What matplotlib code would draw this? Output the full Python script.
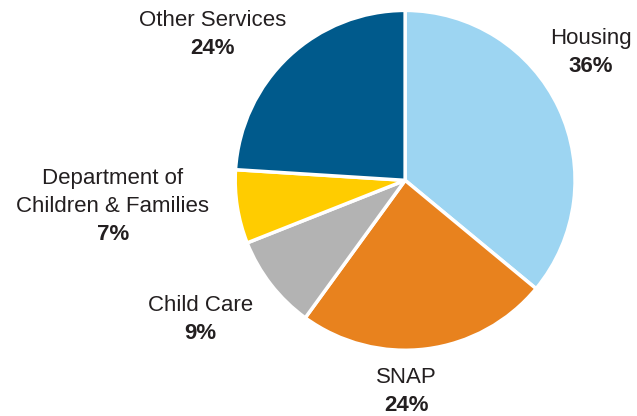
import matplotlib
matplotlib.use('Agg')
import matplotlib.pyplot as plt

plt.rcParams['font.family'] = ['Liberation Sans', 'DejaVu Sans']

# data
labels = ['Housing', 'SNAP', 'Child Care', 'Department of\nChildren & Families', 'Other Services']
shares = [36, 24, 9, 7, 24]
colors = ['#9DD5F2', '#E8821E', '#B3B3B3', '#FFCC00', '#005A8C']

# centre of the first label line, data units (layout only)
label_pos = [(1.094, 0.835), (0.006, -1.159), (-1.206, -0.735), (-1.72, 0.012), (-1.132, 0.941)]
step = 0.165  # line spacing in data units (~28 px)

fig = plt.figure(figsize=(6.37, 4.16), dpi=100)
ax = fig.add_axes([0.369, 0.158, 0.534, 0.817])

ax.pie(shares, colors=colors, startangle=90, counterclock=False,
       wedgeprops=dict(edgecolor='white', linewidth=2.5))
ax.set_xlim(-1, 1)
ax.set_ylim(-1, 1)
ax.set_aspect('equal')

txt_color = '#231F20'
for name, val, (x, y) in zip(labels, shares, label_pos):
    lines = name.split('\n')
    for i, ln in enumerate(lines):
        ax.text(x, y - step * i, ln, ha='center', va='center', fontsize=16,
                color=txt_color, clip_on=False)
    ax.text(x, y - step * len(lines), f'{val}%', ha='center', va='center',
            fontsize=16, fontweight='bold', color=txt_color, clip_on=False)

plt.savefig('out.png', dpi=100)
